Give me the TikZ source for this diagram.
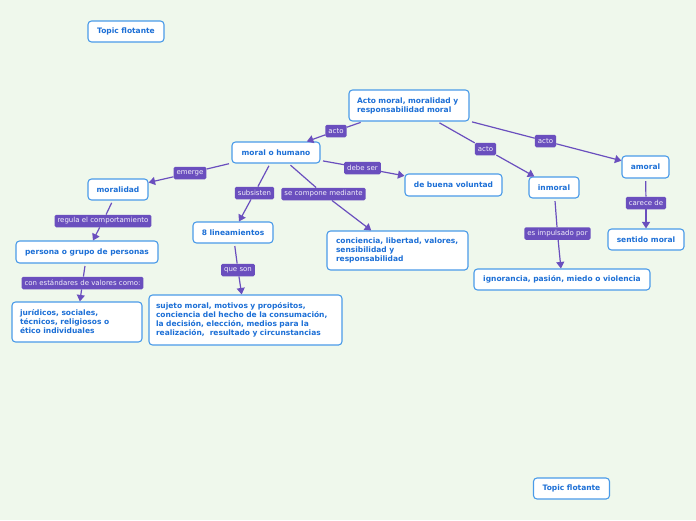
\documentclass[tikz,border=0pt]{standalone}
\usepackage{fontspec}
\setmainfont{DejaVu Sans}
\usetikzlibrary{arrows.meta}
\definecolor{bg}{HTML}{EFF8EC}
\definecolor{nodeb}{HTML}{4A9BE8}
\definecolor{nodet}{HTML}{1C6FD6}
\definecolor{lab}{HTML}{6A4FBE}
\tikzset{
  topic/.style={draw=nodeb, line width=1.1pt, fill=white, rounded corners=3.5pt,
    text=nodet, font=\fontsize{7.5}{9}\selectfont\bfseries, inner xsep=0pt, inner ysep=0pt,
    align=center},
  multi/.style={topic, align=left, inner xsep=8pt},
  lbl/.style={fill=lab, text=white!92!lab, rounded corners=1.5pt,
    font=\fontsize{7}{8}\selectfont, inner xsep=3pt, inner ysep=0pt, minimum height=12.5pt},
  conn/.style={draw=lab, line width=1.2pt, shorten <=2.5pt},
  arr/.style={draw=lab, line width=1.2pt, -{Triangle[length=6.5pt,width=8pt]}}
}
\begin{document}
\begin{tikzpicture}[x=1pt,y=-1pt]
\path[fill=bg,use as bounding box] (0,0) rectangle (696,520);

% topics
\node[topic, minimum width=76pt, minimum height=21pt] (tf1) at (126,31.5) {Topic flotante};
\node[topic, minimum width=76pt, minimum height=21pt] (tf2) at (571.5,488.5) {Topic flotante};
\node[multi, text width=104pt, minimum height=31pt] (main) at (409,105.5) {Acto moral, moralidad y\\responsabilidad moral};
\node[topic, minimum width=88pt, minimum height=21pt] (mh) at (276,152.5) {moral o humano};
\node[topic, minimum width=60pt, minimum height=21pt] (mor) at (118,189.5) {moralidad};
\node[topic, minimum width=142pt, minimum height=22pt] (per) at (87,252) {persona o grupo de personas};
\node[multi, text width=114pt, minimum height=40pt] (jur) at (77,322) {jurídicos, sociales,\\técnicos, religiosos o\\ético individuales};
\node[topic, minimum width=80pt, minimum height=21pt] (lin) at (233,232.5) {8 lineamientos};
\node[multi, inner xsep=7pt, text width=179pt, minimum height=50pt] (suj) at (245.5,320) {sujeto moral, motivos y propósitos,\\conciencia del hecho de la consumación,\\la decisión, elección, medios para la\\realización,\ \ resultado y circunstancias};
\node[multi, inner xsep=9pt, text width=123pt, minimum height=39pt] (con) at (397.5,250.5) {conciencia, libertad, valores,\\sensibilidad y\\responsabilidad};
\node[topic, minimum width=97pt, minimum height=22pt] (buena) at (453.5,185) {de buena voluntad};
\node[topic, minimum width=50pt, minimum height=21pt] (inm) at (554,187.5) {inmoral};
\node[topic, minimum width=176pt, minimum height=21pt] (ign) at (562,279.5) {ignorancia, pasión, miedo o violencia};
\node[topic, minimum width=47pt, minimum height=22pt] (amo) at (645.5,167) {amoral};
\node[topic, minimum width=76pt, minimum height=21pt] (sen) at (646,239.5) {sentido moral};

% labels
\node[lbl] (l1) at (336,131) {acto};
\node[lbl] (l2) at (190,173) {emerge};
\node[lbl] (l3) at (362.5,168) {debe ser};
\node[lbl] (l4) at (254.5,193) {subsisten};
\node[lbl] (l5) at (323.5,194) {se compone mediante};
\node[lbl] (l6) at (103,221) {regula el comportamiento};
\node[lbl] (l7) at (82.5,283) {con estándares de valores como:};
\node[lbl] (l8) at (238,270) {que son};
\node[lbl] (l9) at (485.5,149) {acto};
\node[lbl] (l10) at (545.5,141) {acto};
\node[lbl] (l11) at (557.5,233.5) {es impulsado por};
\node[lbl] (l12) at (646,203) {carece de};

% connectors
\draw[conn] (main) -- (l1); \draw[arr] (l1) -- (mh);
\draw[conn] (main) -- (l9); \draw[arr] (l9) -- (inm);
\draw[conn] (main) -- (l10); \draw[arr] (l10) -- (amo);
\draw[conn] (mh) -- (l2); \draw[arr] (l2) -- (mor);
\draw[conn] (mh) -- (l3); \draw[arr] (l3) -- (buena);
\draw[conn] (mh) -- (l4); \draw[arr] (l4) -- (lin);
\draw[conn] (mh) -- (l5); \draw[arr] (l5) -- (con);
\draw[conn] (mor) -- (l6); \draw[arr] (l6) -- (per);
\draw[conn] (per) -- (l7); \draw[arr] (l7) -- (jur);
\draw[conn] (lin) -- (l8); \draw[arr] (l8) -- (suj);
\draw[conn] (inm) -- (l11); \draw[arr] (l11) -- (ign);
\draw[conn] (amo) -- (l12); \draw[arr] (l12) -- (sen);

% redraw labels on top
\foreach \n/\t in {l1/acto,l2/emerge,l3/debe ser,l4/subsisten,l5/se compone mediante,l6/regula el comportamiento,l7/con estándares de valores como:,l8/que son,l9/acto,l10/acto,l11/es impulsado por,l12/carece de}{}
\end{tikzpicture}
\end{document}
